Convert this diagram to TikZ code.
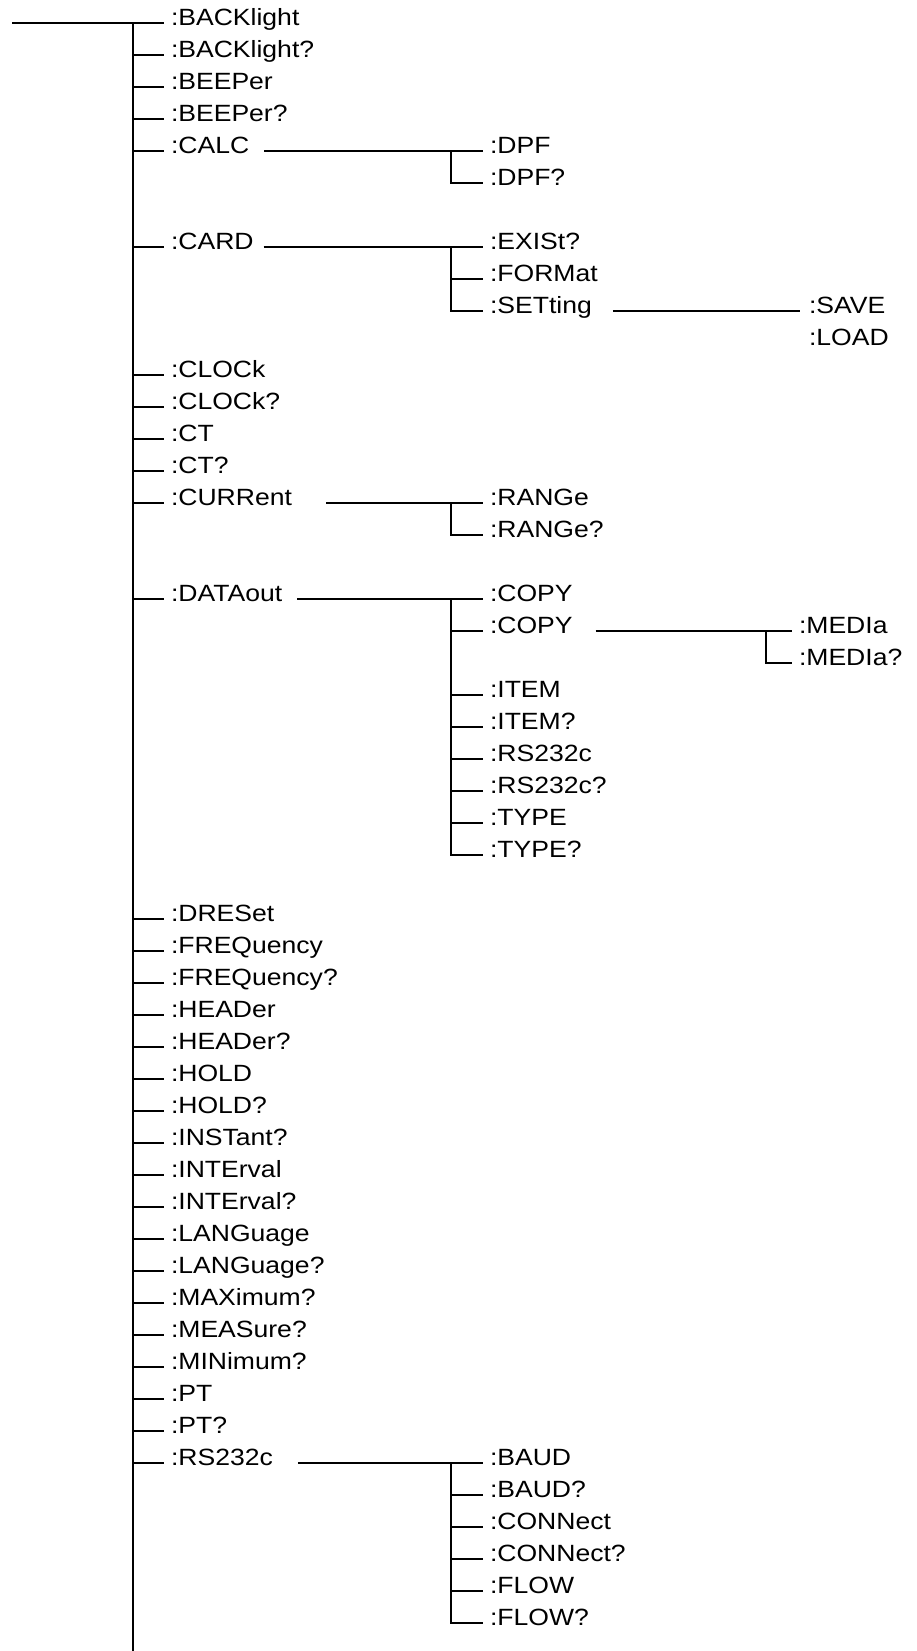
\documentclass[tikz,border=0pt]{standalone}
\usepackage{fontspec}
\setmainfont{Liberation Sans}[FakeStretch=1.13]

\begin{document}
\begin{tikzpicture}[x=1pt, y=-32pt, line width=2pt,
    cmd/.style={anchor=mid west, inner xsep=6pt, inner ysep=0pt,
        font=\fontsize{23.5}{28}\selectfont}]

\useasboundingbox (0,-0.71875) rectangle (916,50.875);

% Root and trunk
\coordinate (root) at (12,0);
\coordinate (trunk) at (133,0);
\coordinate (trunkend) at (133,50.875);
\coordinate (col2) at (451,0);
\coordinate (col3) at (766,0);

% First level
\node[cmd] (backlight)  at (164,0)  {:BACKlight};
\node[cmd] (backlightq) at (164,1)  {:BACKlight?};
\node[cmd] (beeper)     at (164,2)  {:BEEPer};
\node[cmd] (beeperq)    at (164,3)  {:BEEPer?};
\node[cmd] (calc)       at (164,4)  {:CALC};
\node[cmd] (card)       at (164,7)  {:CARD};
\node[cmd] (clock)      at (164,11) {:CLOCk};
\node[cmd] (clockq)     at (164,12) {:CLOCk?};
\node[cmd] (ct)         at (164,13) {:CT};
\node[cmd] (ctq)        at (164,14) {:CT?};
\node[cmd] (current)    at (164,15) {:CURRent};
\node[cmd] (dataout)    at (164,18) {:DATAout};
\node[cmd] (dreset)     at (164,28) {:DRESet};
\node[cmd] (freq)       at (164,29) {:FREQuency};
\node[cmd] (freqq)      at (164,30) {:FREQuency?};
\node[cmd] (header)     at (164,31) {:HEADer};
\node[cmd] (headerq)    at (164,32) {:HEADer?};
\node[cmd] (hold)       at (164,33) {:HOLD};
\node[cmd] (holdq)      at (164,34) {:HOLD?};
\node[cmd] (instantq)   at (164,35) {:INSTant?};
\node[cmd] (interval)   at (164,36) {:INTErval};
\node[cmd] (intervalq)  at (164,37) {:INTErval?};
\node[cmd] (language)   at (164,38) {:LANGuage};
\node[cmd] (languageq)  at (164,39) {:LANGuage?};
\node[cmd] (maximumq)   at (164,40) {:MAXimum?};
\node[cmd] (measureq)   at (164,41) {:MEASure?};
\node[cmd] (minimumq)   at (164,42) {:MINimum?};
\node[cmd] (pt)         at (164,43) {:PT};
\node[cmd] (ptq)        at (164,44) {:PT?};
\node[cmd] (rs)         at (164,45) {:RS232c};

% Second level
\node[cmd] (dpf)     at (483,4)  {:DPF};
\node[cmd] (dpfq)    at (483,5)  {:DPF?};
\node[cmd] (exist)   at (483,7)  {:EXISt?};
\node[cmd] (format)  at (483,8)  {:FORMat};
\node[cmd] (setting) at (483,9)  {:SETting};
\node[cmd] (range)   at (483,15) {:RANGe};
\node[cmd] (rangeq)  at (483,16) {:RANGe?};
\node[cmd] (copy)    at (483,18) {:COPY};
\node[cmd] (copyb)   at (483,19) {:COPY};
\node[cmd] (item)    at (483,21) {:ITEM};
\node[cmd] (itemq)   at (483,22) {:ITEM?};
\node[cmd] (rsout)   at (483,23) {:RS232c};
\node[cmd] (rsoutq)  at (483,24) {:RS232c?};
\node[cmd] (type)    at (483,25) {:TYPE};
\node[cmd] (typeq)   at (483,26) {:TYPE?};
\node[cmd] (baud)    at (483,45) {:BAUD};
\node[cmd] (baudq)   at (483,46) {:BAUD?};
\node[cmd] (connect) at (483,47) {:CONNect};
\node[cmd] (connectq) at (483,48) {:CONNect?};
\node[cmd] (flow)    at (483,49) {:FLOW};
\node[cmd] (flowq)   at (483,50) {:FLOW?};

% Third level
\node[cmd] (save)   at (802,9)  {:SAVE};
\node[cmd] (load)   at (802,10) {:LOAD};
\node[cmd] (media)  at (792,19) {:MEDIa};
\node[cmd] (mediaq) at (792,20) {:MEDIa?};

% Trunk branches
\draw (root) -- (backlight.mid west);
\draw (trunk) -- (trunkend);
\draw (trunk |- backlightq.mid west) -- (backlightq.mid west);
\draw (trunk |- beeper.mid west) -- (beeper.mid west);
\draw (trunk |- beeperq.mid west) -- (beeperq.mid west);
\draw (trunk |- calc.mid west) -- (calc.mid west);
\draw (trunk |- card.mid west) -- (card.mid west);
\draw (trunk |- clock.mid west) -- (clock.mid west);
\draw (trunk |- clockq.mid west) -- (clockq.mid west);
\draw (trunk |- ct.mid west) -- (ct.mid west);
\draw (trunk |- ctq.mid west) -- (ctq.mid west);
\draw (trunk |- current.mid west) -- (current.mid west);
\draw (trunk |- dataout.mid west) -- (dataout.mid west);
\draw (trunk |- dreset.mid west) -- (dreset.mid west);
\draw (trunk |- freq.mid west) -- (freq.mid west);
\draw (trunk |- freqq.mid west) -- (freqq.mid west);
\draw (trunk |- header.mid west) -- (header.mid west);
\draw (trunk |- headerq.mid west) -- (headerq.mid west);
\draw (trunk |- hold.mid west) -- (hold.mid west);
\draw (trunk |- holdq.mid west) -- (holdq.mid west);
\draw (trunk |- instantq.mid west) -- (instantq.mid west);
\draw (trunk |- interval.mid west) -- (interval.mid west);
\draw (trunk |- intervalq.mid west) -- (intervalq.mid west);
\draw (trunk |- language.mid west) -- (language.mid west);
\draw (trunk |- languageq.mid west) -- (languageq.mid west);
\draw (trunk |- maximumq.mid west) -- (maximumq.mid west);
\draw (trunk |- measureq.mid west) -- (measureq.mid west);
\draw (trunk |- minimumq.mid west) -- (minimumq.mid west);
\draw (trunk |- pt.mid west) -- (pt.mid west);
\draw (trunk |- ptq.mid west) -- (ptq.mid west);
\draw (trunk |- rs.mid west) -- (rs.mid west);

% CALC
\draw ([xshift=8pt]calc.mid east) -- (dpf.mid west);
\draw (col2 |- dpf.mid west) |- (dpfq.mid west);

% CARD
\draw ([xshift=3pt]card.mid east) -- (exist.mid west);
\draw (col2 |- exist.mid west) |- (setting.mid west);
\draw (col2 |- format.mid west) -- (format.mid west);
\draw ([xshift=14pt]setting.mid east) -- ([xshift=-2pt]save.mid west);

% CURRent
\draw ([xshift=27pt]current.mid east) -- (range.mid west);
\draw (col2 |- range.mid west) |- (rangeq.mid west);

% DATAout
\draw ([xshift=8pt]dataout.mid east) -- (copy.mid west);
\draw (col2 |- copy.mid west) |- (typeq.mid west);
\draw (col2 |- copyb.mid west) -- (copyb.mid west);
\draw (col2 |- item.mid west) -- (item.mid west);
\draw (col2 |- itemq.mid west) -- (itemq.mid west);
\draw (col2 |- rsout.mid west) -- (rsout.mid west);
\draw (col2 |- rsoutq.mid west) -- (rsoutq.mid west);
\draw (col2 |- type.mid west) -- (type.mid west);
\draw ([xshift=16pt]copyb.mid east) -- (media.mid west);
\draw (col3 |- media.mid west) |- (mediaq.mid west);

% RS232c
\draw ([xshift=18pt]rs.mid east) -- (baud.mid west);
\draw (col2 |- baud.mid west) |- (flowq.mid west);
\draw (col2 |- baudq.mid west) -- (baudq.mid west);
\draw (col2 |- connect.mid west) -- (connect.mid west);
\draw (col2 |- connectq.mid west) -- (connectq.mid west);
\draw (col2 |- flow.mid west) -- (flow.mid west);

\end{tikzpicture}
\end{document}
